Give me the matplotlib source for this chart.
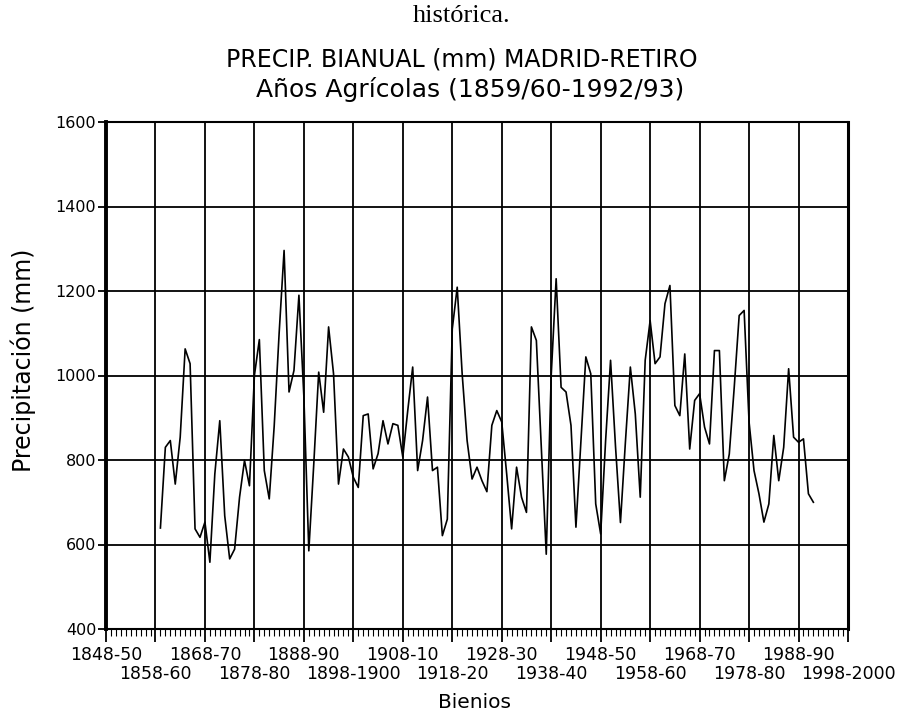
import numpy as np
import matplotlib.pyplot as plt

# Precipitacion bianual Madrid-Retiro, un valor por bienio (1859/60 ... )
primer_ano = 1859
precip = [639, 830, 846, 743, 854, 1063, 1028, 637, 617, 653,
          558, 767, 893, 668, 566, 589, 712, 799, 739, 1000,
          1085, 775, 708, 880, 1100, 1296, 961, 1012, 1190, 950,
          585, 790, 1008, 913, 1115, 1004, 743, 826, 807, 759,
          735, 905, 909, 779, 815, 893, 838, 886, 882, 807,
          917, 1020, 775, 846, 949, 775, 783, 621, 660, 1110,
          1209, 1004, 846, 755, 783, 751, 725, 882, 917, 890,
          767, 637, 783, 712, 676, 1115, 1083, 830, 577, 1000,
          1229, 972, 961, 882, 641, 844, 1044, 1004, 696, 625,
          846, 1036, 832, 652, 842, 1020, 909, 712, 1036, 1130,
          1028, 1044, 1170, 1213, 929, 905, 1051, 826, 941, 957,
          878, 838, 1059, 1059, 751, 814, 972, 1142, 1154, 890,
          775, 720, 653, 696, 858, 751, 830, 1016, 854, 842,
          850, 720, 700]
anos = np.arange(primer_ano, primer_ano + len(precip))

ticks_x = [1848, 1858, 1868, 1878, 1888, 1898, 1908, 1918,
           1928, 1938, 1948, 1958, 1968, 1978, 1988, 1998]
etiquetas_x = ['1848-50', '1858-60', '1868-70', '1878-80', '1888-90',
               '1898-1900', '1908-10', '1918-20', '1928-30', '1938-40',
               '1948-50', '1958-60', '1968-70', '1978-80', '1988-90',
               '1998-2000']
ticks_y = [400, 600, 800, 1000, 1200, 1400, 1600]

W, H = 903, 715
fig = plt.figure(figsize=(W / 100, H / 100), dpi=100)
ax = fig.add_axes([106 / W, 1 - 629 / H, (848 - 106) / W, (629 - 122) / H])

ax.plot(anos, precip, color='black', linewidth=1.2)

ax.set_xlim(1848, 1998)
ax.set_ylim(400, 1600)
ax.set_yticks(ticks_y)
ax.set_xticks(ticks_x)
ax.set_xticklabels(etiquetas_x)
ax.set_xticks(np.arange(1848, 1999, 1), minor=True)

ax.grid(True, which='major', color='black', linewidth=1.3)
ax.tick_params(axis='x', which='major', direction='out', length=9, width=1.3,
               labelsize=12.5, pad=3)
ax.tick_params(axis='x', which='minor', direction='out', length=5, width=0.8)
ax.tick_params(axis='y', direction='out', length=6, width=1.3, labelsize=11.5, pad=1)
# etiquetas alternadas en dos filas
for i, t in enumerate(ax.xaxis.get_major_ticks()):
    if i % 2 == 1:
        t.set_pad(17)

for s in ax.spines.values():
    s.set_linewidth(1.5)
ax.spines['left'].set_linewidth(2.8)
ax.spines['right'].set_linewidth(2.2)

ax.set_ylabel('Precipitación (mm)', fontsize=17)
ax.yaxis.set_label_coords((36 - 106) / 742, 0.53)
fig.text(475 / W, 1 - 703 / H, 'Bienios', fontsize=14.5, ha='center', va='center')

fig.text(462 / W, 1 - 59 / H, 'PRECIP. BIANUAL (mm) MADRID-RETIRO',
         fontsize=17, ha='center', va='center')
fig.text(470 / W, 1 - 89 / H, 'Años Agrícolas (1859/60-1992/93)',
         fontsize=18, ha='center', va='center')
fig.text(462 / W, 1 - 16 / H, 'histórica.', fontsize=19,
         family='Liberation Serif', ha='center', va='center')

fig.savefig('out.png', dpi=100)
